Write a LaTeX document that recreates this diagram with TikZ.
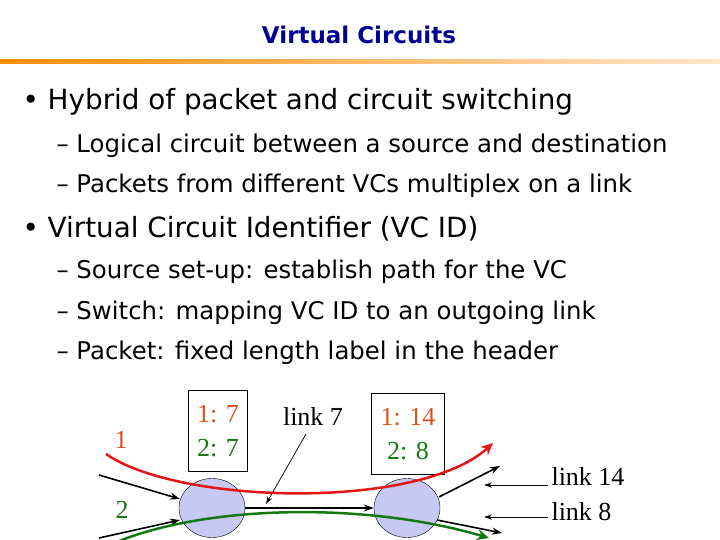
\documentclass[tikz,border=0pt]{standalone}
\usepackage{fontspec}
\setmainfont{DejaVu Sans}
\newfontfamily\tms{Liberation Serif}
\usetikzlibrary{arrows.meta,shapes.geometric}
\definecolor{ttl}{RGB}{0,0,150}
\definecolor{rd}{RGB}{230,20,20}
\definecolor{gr}{RGB}{20,120,20}
\definecolor{lbl}{RGB}{220,80,30}
\definecolor{cir}{RGB}{200,200,245}
\begin{document}
\begin{tikzpicture}[x=1pt,y=-1pt,
 bul/.style={anchor=west,font=\fontsize{27.8}{28}\selectfont},
 sub/.style={anchor=west,font=\fontsize{24.4}{24}\selectfont},
 sw/.style={draw,fill=cir,ellipse,minimum width=66pt,minimum height=59pt,inner sep=0},
 tab/.style={draw,minimum width=59pt,minimum height=81pt,align=center,inner sep=1pt,font=\tms\fontsize{26}{34}\selectfont},
 ser/.style={font=\tms\fontsize{26}{26}\selectfont},
 bk/.style={-{Stealth[length=10pt,width=7pt]},line width=1.6pt},
 th/.style={-{Stealth[length=8pt,width=5pt]},line width=0.7pt}]
\useasboundingbox (0,0) rectangle (720,540);
\node[font=\bfseries\fontsize{23}{23}\selectfont,text=ttl] (t) at (359,35) {Virtual Circuits};
\shade[left color=orange!90!yellow,right color=orange!20] (0,60) rectangle (720,64);
\node[bul] (b1) at (19,102) {• Hybrid of packet and circuit switching};
\node[sub] (s1) at (53,146) {– Logical circuit between a source and destination};
\node[sub] (s2) at (53,186) {– Packets from different VCs multiplex on a link};
\node[bul] (b2) at (19,229) {• Virtual Circuit Identifier (VC ID)};
\node[sub] (s3) at (53,272) {– Source set-up: establish path for the VC};
\node[sub] (s4) at (53,313) {– Switch: mapping VC ID to an outgoing link};
\node[sub] (s5) at (53,353) {– Packet: fixed length label in the header};
\node[sw] (A) at (212,508) {};
\node[sw] (B) at (407,508) {};
\node[tab] (T1) at (218,431) {\textcolor{lbl}{1: 7}\\\textcolor{gr}{2: 7}};
\node[tab,minimum width=73pt] (T2) at (408,434) {\textcolor{lbl}{1: 14}\\\textcolor{gr}{2: 8}};
\node[ser,text=lbl] (n1) at (121,440) {1};
\node[ser,text=gr] (n2) at (122,510) {2};
\node[ser] (l7) at (313,416) {link 7};
\node[ser,anchor=west] (l14) at (548,476) {link 14};
\node[ser,anchor=west] (l8) at (548,512) {link 8};
\coordinate (ia) at (99,475); \coordinate (ib) at (99,538);
\coordinate (oa) at (500,466); \coordinate (ob) at (502,533);
\draw[bk] (ia) -- (180,499);
\draw[bk] (ib) -- (180,520);
\draw[bk] (A.east) -- (B.west);
\draw[bk] (439,497) -- (oa);
\draw[bk] (437,520) -- (ob);
\draw[th] (306,434) -- (266,504);
\draw[th] (l14.west |- 0,485) -- (484,485);
\draw[th] (l8.west |- 0,517) -- (484,517);
\coordinate (r0) at (106,454); \coordinate (r1) at (493,443);
\draw[rd,line width=2.5pt,-{Stealth[length=12pt,width=11pt]}] (r0) .. controls (180,505) and (420,510) .. (r1);
\coordinate (g0) at (101,549); \coordinate (g1) at (489,538);
\draw[gr,line width=2.5pt,-{Stealth[length=12pt,width=11pt]}] (g0) .. controls (190,505) and (360,500) .. (g1);
\end{tikzpicture}
\end{document}
